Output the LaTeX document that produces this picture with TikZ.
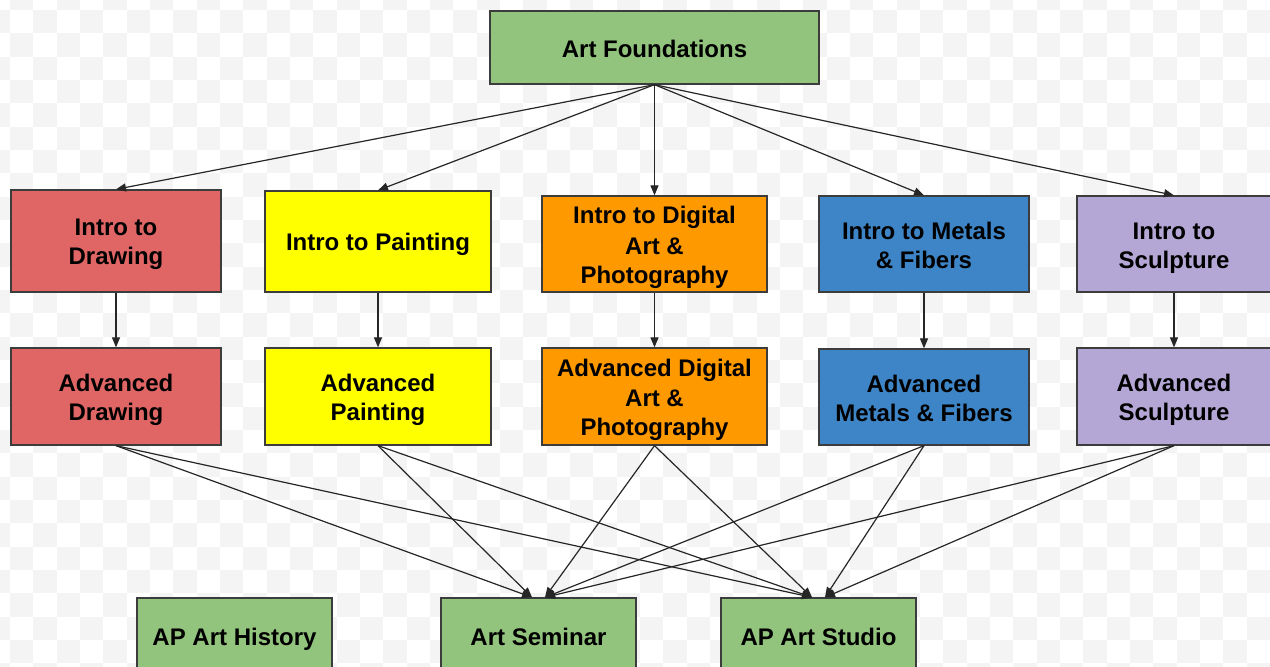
\documentclass[tikz,border=0pt]{standalone}
\usepackage{fontspec}
\setmainfont{Liberation Sans}
\usetikzlibrary{arrows.meta,calc}
\definecolor{cgreen}{HTML}{93C47D}
\definecolor{cred}{HTML}{E06666}
\definecolor{cyellow}{HTML}{FFFF00}
\definecolor{corange}{HTML}{FF9900}
\definecolor{cblue}{HTML}{3D85C6}
\definecolor{cpurple}{HTML}{B4A7D6}
\definecolor{cborder}{HTML}{3C3C3C}
\definecolor{cchk}{HTML}{F4F4F4}
\newcommand\ms{\rule[-5pt]{0pt}{29pt}}
\tikzset{
  course/.style={draw=cborder, line width=1.3pt, rectangle, inner sep=0pt, align=center,
    font=\fontsize{24}{29}\selectfont\bfseries, text=black},
  link/.style={draw=black!85, line width=1.2pt, -{Triangle[length=10pt,width=8pt]}},
}
\begin{document}
\begin{tikzpicture}[x=1pt,y=-1pt]
\useasboundingbox (0,0) rectangle (1270,667);
\fill[white] (0,0) rectangle (1270,667);
% checkerboard background
\foreach \r in {0,...,29}{
  \pgfmathtruncatemacro{\st}{mod(\r+1,2)}
  \foreach \c in {0,2,...,54}{
    \fill[cchk] ({-13.333+23.333*(\c+\st)},{-13.333+23.333*\r}) rectangle +(23.333,23.333);
  }
}
% nodes
\node[course, fill=cgreen, minimum width=329pt, minimum height=73pt] (found) at (654.5,47.5) {\ms Art Foundations};

\node[course, fill=cred, minimum width=210pt, minimum height=102pt] (d1) at (116,241) {\ms Intro to\\\ms Drawing};
\node[course, fill=cyellow, minimum width=226pt, minimum height=101pt] (p1) at (378,241.5) {\ms Intro to Painting};
\node[course, fill=corange, minimum width=225pt, minimum height=96pt] (g1) at (654.5,244) {\ms Intro to Digital\\\ms Art \&\\\ms Photography};
\node[course, fill=cblue, minimum width=210pt, minimum height=96pt] (m1) at (924,244) {\ms Intro to Metals\\\ms \& Fibers};
\node[course, fill=cpurple, minimum width=194pt, minimum height=96pt] (s1) at (1174,244) {\ms Intro to\\\ms Sculpture};

\node[course, fill=cred, minimum width=210pt, minimum height=97pt] (d2) at (116,396.5) {\ms Advanced\\\ms Drawing};
\node[course, fill=cyellow, minimum width=226pt, minimum height=97pt] (p2) at (378,396.5) {\ms Advanced\\\ms Painting};
\node[course, fill=corange, minimum width=225pt, minimum height=97pt] (g2) at (654.5,396.5) {\ms Advanced Digital\\\ms Art \&\\\ms Photography};
\node[course, fill=cblue, minimum width=210pt, minimum height=96pt] (m2) at (924,397) {\ms Advanced\\\ms Metals \& Fibers};
\node[course, fill=cpurple, minimum width=194pt, minimum height=97pt] (s2) at (1174,396.5) {\ms Advanced\\\ms Sculpture};

\node[course, fill=cgreen, minimum width=195pt, minimum height=76pt] (hist) at (234.5,636) {\ms AP Art History};
\node[course, fill=cgreen, minimum width=195pt, minimum height=76pt] (sem) at (538.5,636) {\ms Art Seminar};
\node[course, fill=cgreen, minimum width=195pt, minimum height=76pt] (stu) at (818.5,636) {\ms AP Art Studio};

\coordinate (semL) at ($(sem.north)+(-6.5,0)$);
\coordinate (semR) at ($(sem.north)+(6.5,0)$);
\coordinate (stuL) at ($(stu.north)+(-6.5,0)$);
\coordinate (stuR) at ($(stu.north)+(6.5,0)$);

% connectors
\foreach \t in {d1,p1,g1,m1,s1}{
  \draw[link] (found.south) -- (\t.north);
}
\draw[link] (d1.south) -- (d2.north);
\draw[link] (p1.south) -- (p2.north);
\draw[link] (g1.south) -- (g2.north);
\draw[link] (m1.south) -- (m2.north);
\draw[link] (s1.south) -- (s2.north);

\draw[link] (d2.south) -- (semL);
\draw[link] (d2.south) -- (stuL);
\draw[link] (p2.south) -- (semL);
\draw[link] (p2.south) -- (stuL);
\draw[link] (g2.south) -- (semR);
\draw[link] (g2.south) -- (stuL);
\draw[link] (m2.south) -- (semR);
\draw[link] (m2.south) -- (stuR);
\draw[link] (s2.south) -- (semR);
\draw[link] (s2.south) -- (stuR);
\end{tikzpicture}
\end{document}
